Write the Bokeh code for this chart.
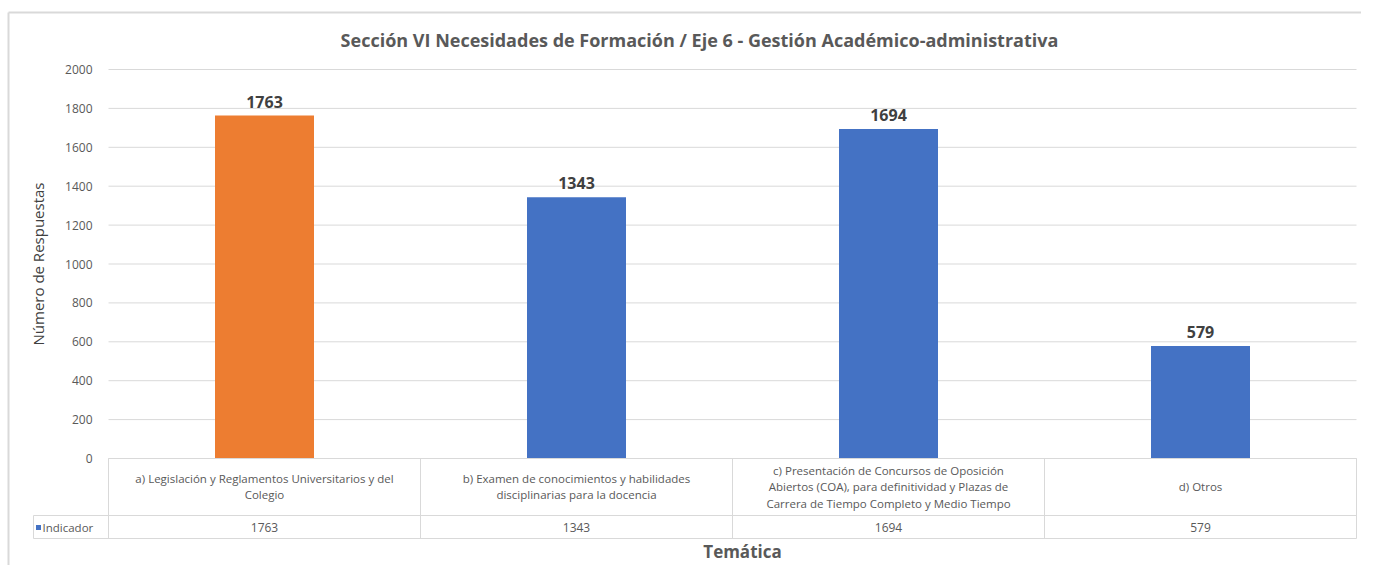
from bokeh.plotting import figure
from bokeh.models import Range1d, LinearAxis, FixedTicker, ColumnDataSource, Label
from bokeh.core.properties import value
from bokeh.embed import file_html
from bokeh.resources import INLINE

# ---- data ----
categories = [
    "a) Legislación y Reglamentos Universitarios y del\nColegio",
    "b) Examen de conocimientos y habilidades\ndisciplinarias para la docencia",
    "c) Presentación de Concursos de Oposición\nAbiertos (COA), para definitividad y Plazas de\nCarrera de Tiempo Completo y Medio Tiempo",
    "d) Otros",
]
values = [1763, 1343, 1694, 579]
bar_colors = ["#ED7D31", "#4472C4", "#4472C4", "#4472C4"]
yticks = [0, 200, 400, 600, 800, 1000, 1200, 1400, 1600, 1800, 2000]
series_name = "Indicador"
title_text = "Sección VI Necesidades de Formación / Eje 6 - Gestión Académico-administrativa"
xlabel = "Temática"
ylabel = "Número de Respuestas"

FONT = "Open Sans"
GRAY = "#595959"
LINE = "#D9D9D9"

W, H = 1361, 565
# figure pixel coords: plot area x 108..1356, y(2000)=69, y(0)=458
PL, PR = 108, 1356
band = (PR - PL) / 4.0
x0 = -0.5 - PL / band
x1 = 3.5 + (W - PR) / band
upp = 2000.0 / (458 - 69)  # data units per pixel
y1 = 2000 + 69 * upp
y0 = -(H - 458) * upp

def ypix(py):
    return (458 - py) * upp

def xpix(px):
    return (px - PL) / band - 0.5

p = figure(width=W, height=H, output_backend="svg", toolbar_location=None,
           x_range=Range1d(x0, x1), y_range=Range1d(y0, y1),
           min_border_left=0, min_border_right=0, min_border_top=0, min_border_bottom=0,
           x_axis_type=None, y_axis_type=None)
p.grid.visible = False
p.outline_line_color = None
p.background_fill_color = "white"
p.border_fill_color = "white"

xs = list(range(len(values)))

# chart border (left and top visible)
p.segment(x0=[xpix(8), xpix(8)], x1=[xpix(8), xpix(W)], y0=[ypix(12), ypix(12)], y1=[ypix(H), ypix(12)],
          line_color=LINE, line_width=2)

# gridlines
p.segment(x0=[-0.5] * len(yticks), x1=[3.5] * len(yticks), y0=yticks, y1=yticks,
          line_color=LINE, line_width=1)

# y axis at fixed location
yax = LinearAxis(ticker=FixedTicker(ticks=yticks), bounds=(0, 2000))
yax.fixed_location = -0.5
yax.axis_line_color = None
yax.major_tick_line_color = None
yax.minor_tick_line_color = None
yax.major_label_text_font = FONT
yax.major_label_text_font_size = "12px"
yax.major_label_text_color = GRAY
yax.major_label_standoff = 10
yax.axis_label = ylabel
yax.axis_label_text_font = FONT
yax.axis_label_text_font_size = "15px"
yax.axis_label_text_font_style = "normal"
yax.axis_label_text_color = "#404040"
yax.axis_label_standoff = 14
p.add_layout(yax, "left")

# bars
src = ColumnDataSource(dict(x=xs, top=values, color=bar_colors,
                            lbl=[str(v) for v in values], cat=categories))
p.vbar(x="x", top="top", bottom=0, width=99 / band, fill_color="color", line_color=None, source=src)

# data labels
p.text(x="x", y="top", text="lbl", source=src, y_offset=-8,
       text_align="center", text_baseline="bottom",
       text_font=value(FONT), text_font_size="16px", text_font_style="bold",
       text_color="#404040")

# data table lines
y_top = 0
y_sep = ypix(515)
y_bot = ypix(538)
x_lab = xpix(33)
p.segment(x0=[-0.5, x_lab, x_lab], x1=[3.5, 3.5, 3.5], y0=[y_top, y_sep, y_bot], y1=[y_top, y_sep, y_bot],
          line_color=LINE, line_width=1)
vx = [-0.5, 0.5, 1.5, 2.5, 3.5]
p.segment(x0=vx, x1=vx, y0=[y_top] * 5, y1=[y_bot] * 5, line_color=LINE, line_width=1)
p.segment(x0=[x_lab], x1=[x_lab], y0=[y_sep], y1=[y_bot], line_color=LINE, line_width=1)

# category texts
p.text(x="x", y=ypix(486), text="cat", source=src, text_align="center", text_baseline="middle",
       text_font=value(FONT), text_font_size="11.5px", text_color=GRAY, text_line_height=1.1)
# value row
p.text(x="x", y=ypix(527), text="lbl", source=src, text_align="center", text_baseline="middle",
       text_font=value(FONT), text_font_size="12px", text_color=GRAY)
# legend key in table
p.scatter(x=[xpix(38)], y=[ypix(527)], marker="square", size=5, fill_color="#4472C4", line_color=None)
p.text(x=[xpix(42)], y=[ypix(527)], text=[series_name], text_align="left", text_baseline="middle",
       text_font=value(FONT), text_font_size="11.5px", text_color=GRAY)

# title
p.add_layout(Label(x=xpix(699), y=ypix(39), text=title_text, text_align="center", text_baseline="middle",
                   text_font=FONT, text_font_size="18px", text_font_style="bold", text_color=GRAY))
# x axis title
p.add_layout(Label(x=xpix(742), y=ypix(551), text=xlabel, text_align="center", text_baseline="middle",
                   text_font=FONT, text_font_size="17px", text_font_style="bold", text_color=GRAY))

open("out.html", "w").write(file_html(p, INLINE))
